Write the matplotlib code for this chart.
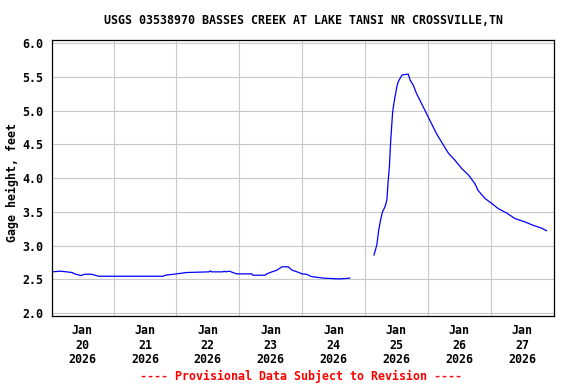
import matplotlib.pyplot as plt
import numpy as np

# Gage height readings, time in days after Jan 20 2026 00:00
days_base = [-0.48, -0.34, -0.16, -0.12, -0.02, 0.04, 0.15, 0.26, 1.29, 1.32,
             1.50, 1.66, 2.02, 2.04, 2.06, 2.24, 2.26, 2.28, 2.35, 2.37, 2.46,
             2.70, 2.72, 2.91, 2.94, 3.02, 3.10, 3.18, 3.28, 3.34, 3.42, 3.50,
             3.57, 3.65, 3.84, 4.10, 4.26]
height_base = [2.61, 2.62, 2.60, 2.58, 2.555, 2.575, 2.575, 2.545, 2.545, 2.56,
               2.58, 2.60, 2.61, 2.625, 2.61, 2.61, 2.62, 2.61, 2.62, 2.61, 2.58,
               2.58, 2.56, 2.56, 2.58, 2.61, 2.635, 2.685, 2.685, 2.635, 2.61, 2.58,
               2.575, 2.54, 2.517, 2.505, 2.517]

days_storm = [4.645, 4.69, 4.72, 4.75, 4.78, 4.82, 4.85, 4.87, 4.89, 4.91,
              4.94, 4.95, 4.98, 5.01, 5.03, 5.06, 5.09, 5.19, 5.22, 5.27,
              5.32, 5.40, 5.48, 5.56, 5.64, 5.75, 5.83, 5.93, 6.04, 6.15,
              6.25, 6.30, 6.41, 6.52, 6.62, 6.76, 6.89, 7.05, 7.18, 7.31, 7.39]
height_storm = [2.86, 3.01, 3.23, 3.38, 3.50, 3.575, 3.675, 3.95, 4.17, 4.54,
                4.96, 5.04, 5.21, 5.36, 5.43, 5.48, 5.53, 5.545, 5.455, 5.38,
                5.26, 5.11, 4.96, 4.81, 4.66, 4.49, 4.37, 4.27, 4.145, 4.045,
                3.92, 3.82, 3.70, 3.625, 3.55, 3.48, 3.40, 3.35, 3.30, 3.26, 3.22]

tick_days = [0, 1, 2, 3, 4, 5, 6, 7]
tick_labels = ["Jan\n20\n2026", "Jan\n21\n2026", "Jan\n22\n2026", "Jan\n23\n2026",
               "Jan\n24\n2026", "Jan\n25\n2026", "Jan\n26\n2026", "Jan\n27\n2026"]
grid_days = [0.5, 1.5, 2.5, 3.5, 4.5, 5.5, 6.5]
y_ticks = [2.0, 2.5, 3.0, 3.5, 4.0, 4.5, 5.0, 5.5, 6.0]

title = "USGS 03538970 BASSES CREEK AT LAKE TANSI NR CROSSVILLE,TN"
footer = "---- Provisional Data Subject to Revision ----"

font = {"family": "DejaVu Sans Mono", "weight": "bold", "size": 8.4}

fig = plt.figure(figsize=(5.76, 3.84), dpi=100)
ax = fig.add_axes([52 / 576, 1 - 316 / 384, 502 / 576, 276 / 384])

# grid first, then data
for gx in grid_days:
    ax.axvline(gx, color="#c8c8c8", lw=0.8, zorder=1)
for gy in y_ticks:
    ax.axhline(gy, color="#c8c8c8", lw=0.8, zorder=1)

ax.plot(days_base, height_base, color="#0000ff", lw=0.9, zorder=2)
ax.plot(days_storm, height_storm, color="#0000ff", lw=0.9, zorder=2)

ax.set_xlim(-0.48, 7.51)
ax.set_ylim(1.955, 6.05)

ax.set_xticks(tick_days)
ax.set_xticklabels(tick_labels, fontdict=font, linespacing=1.15)
ax.set_yticks(y_ticks)
ax.set_yticklabels([f"{v:.1f}" for v in y_ticks], fontdict=font)
ax.tick_params(axis="both", length=0)
ax.tick_params(axis="x", pad=6)
ax.tick_params(axis="y", pad=6)

for s in ax.spines.values():
    s.set_color("black")
    s.set_linewidth(0.9)

fig.text(12 / 576, 1 - 183 / 384, "Gage height, feet", rotation=90,
         ha="center", va="center", fontdict=font)
fig.text(303 / 576, 1 - 21 / 384, title, ha="center", va="center", fontdict=font)
fig.text(301 / 576, 1 - 376 / 384, footer, ha="center", va="center",
         color="red", fontdict=font)

fig.savefig("out.png", dpi=100)
